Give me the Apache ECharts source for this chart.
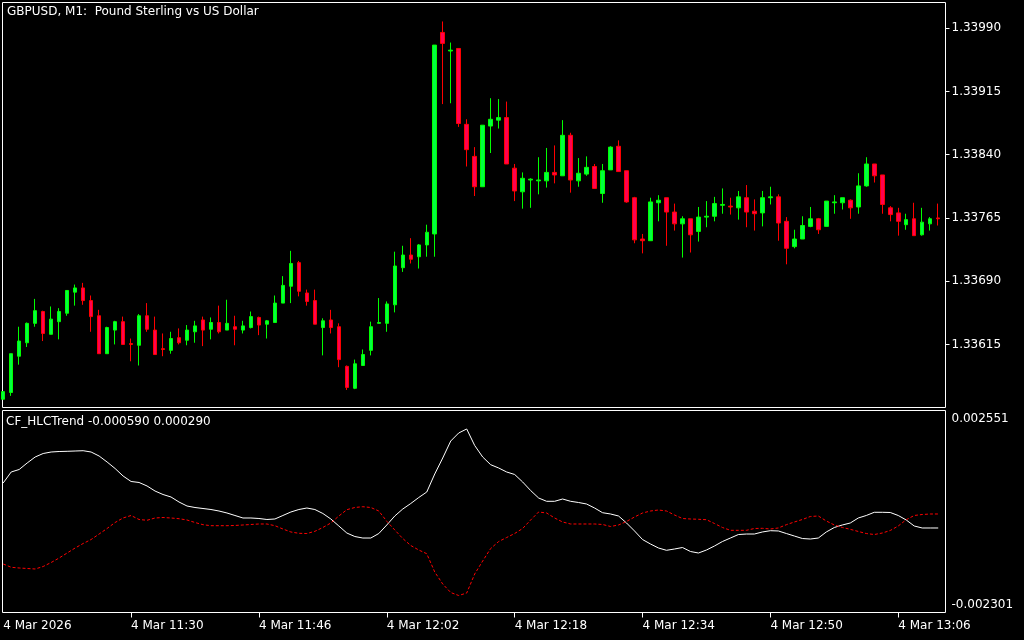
<!DOCTYPE html>
<html><head><meta charset="utf-8">
<script src="https://cdn.jsdelivr.net/npm/echarts@6/dist/echarts.min.js"></script>
<style>html,body{margin:0;padding:0;background:#000;}#c{width:1024px;height:640px;}</style>
</head><body><div id="c"></div>
<script>
const chartTitle = 'GBPUSD, M1:  Pound Sterling vs US Dollar';
const indicatorTitle = 'CF_HLCTrend -0.000590 0.000290';

// One-minute candles 11:14 .. 13:11 (index 0 .. 117)
const open = [1.33550,1.33558,1.33601,1.33617,1.33640,1.33654,1.33627,1.33642,1.33652,1.33677,
1.33682,1.33667,1.33649,1.33604,1.33632,1.33642,1.33616,1.33614,1.33649,1.33632,
1.33610,1.33608,1.33623,1.33620,1.33630,1.33644,1.33633,1.33641,1.33632,1.33636,
1.33632,1.33635,1.33647,1.33639,1.33641,1.33664,1.33684,1.33712,1.33676,1.33667,
1.33635,1.33644,1.33636,1.33589,1.33563,1.33590,1.33608,1.33640,1.33640,1.33662,
1.33706,1.33721,1.33719,1.33733,1.33746,1.33985,1.33963,1.33966,1.33876,1.33838,
1.33802,1.33874,1.33881,1.33884,1.33824,1.33796,1.33810,1.33809,1.33809,1.33819,
1.33815,1.33863,1.33809,1.33817,1.33826,1.33794,1.33822,1.33850,1.33821,1.33789,
1.33740,1.33738,1.33783,1.33789,1.33772,1.33758,1.33764,1.33749,1.33766,1.33767,
1.33780,1.33779,1.33777,1.33789,1.33773,1.33771,1.33789,1.33790,1.33761,1.33731,
1.33740,1.33755,1.33764,1.33755,1.33783,1.33783,1.33786,1.33778,1.33803,1.33829,
1.33816,1.33777,1.33771,1.33757,1.33764,1.33745,1.33758,1.33765];
const close = [1.33559,1.33604,1.33619,1.33640,1.33655,1.33628,1.33645,1.33654,1.33679,1.33682,
1.33667,1.33648,1.33604,1.33635,1.33642,1.33615,1.33615,1.33649,1.33633,1.33603,
1.33609,1.33622,1.33617,1.33632,1.33637,1.33632,1.33641,1.33630,1.33640,1.33633,
1.33637,1.33648,1.33638,1.33643,1.33664,1.33685,1.33711,1.33678,1.33666,1.33639,
1.33643,1.33635,1.33597,1.33564,1.33592,1.33603,1.33636,1.33641,1.33663,1.33708,
1.33721,1.33716,1.33733,1.33748,1.33970,1.33972,1.33964,1.33877,1.33846,1.33802,
1.33875,1.33882,1.33884,1.33829,1.33797,1.33812,1.33811,1.33810,1.33819,1.33816,
1.33863,1.33810,1.33818,1.33825,1.33800,1.33821,1.33849,1.33820,1.33784,1.33739,
1.33738,1.33784,1.33786,1.33772,1.33758,1.33764,1.33745,1.33766,1.33767,1.33782,
1.33781,1.33778,1.33790,1.33772,1.33770,1.33789,1.33790,1.33759,1.33729,1.33740,
1.33756,1.33764,1.33751,1.33785,1.33784,1.33789,1.33777,1.33803,1.33829,1.33815,
1.33781,1.33769,1.33761,1.33763,1.33744,1.33760,1.33764,1.33764];
const low = [1.33550,1.33554,1.33591,1.33612,1.33636,1.33619,1.33627,1.33621,1.33649,1.33661,
1.33662,1.33630,1.33604,1.33604,1.33615,1.33615,1.33595,1.33590,1.33630,1.33603,
1.33601,1.33604,1.33615,1.33614,1.33617,1.33613,1.33621,1.33628,1.33632,1.33614,
1.33628,1.33634,1.33626,1.33622,1.33641,1.33664,1.33664,1.33672,1.33661,1.33639,
1.33602,1.33628,1.33588,1.33561,1.33562,1.33590,1.33602,1.33640,1.33630,1.33653,
1.33701,1.33711,1.33705,1.33719,1.33719,1.33900,1.33901,1.33873,1.33826,1.33791,
1.33802,1.33842,1.33871,1.33829,1.33785,1.33776,1.33777,1.33793,1.33801,1.33806,
1.33815,1.33795,1.33802,1.33815,1.33800,1.33783,1.33822,1.33820,1.33783,1.33735,
1.33723,1.33738,1.33761,1.33732,1.33750,1.33718,1.33724,1.33737,1.33754,1.33761,
1.33770,1.33769,1.33763,1.33754,1.33750,1.33755,1.33781,1.33738,1.33710,1.33729,
1.33740,1.33754,1.33746,1.33755,1.33770,1.33775,1.33764,1.33770,1.33802,1.33807,
1.33770,1.33761,1.33744,1.33751,1.33744,1.33744,1.33750,1.33756];
const high = [1.33559,1.33604,1.33636,1.33641,1.33669,1.33655,1.33660,1.33658,1.33679,1.33686,
1.33688,1.33673,1.33656,1.33636,1.33643,1.33648,1.33622,1.33651,1.33664,1.33648,
1.33628,1.33630,1.33634,1.33638,1.33643,1.33648,1.33647,1.33661,1.33668,1.33649,
1.33643,1.33654,1.33648,1.33644,1.33673,1.33696,1.33726,1.33714,1.33680,1.33680,
1.33646,1.33656,1.33640,1.33590,1.33597,1.33609,1.33642,1.33670,1.33666,1.33725,
1.33732,1.33741,1.33734,1.33757,1.33970,1.33998,1.33973,1.33966,1.33882,1.33849,
1.33875,1.33907,1.33906,1.33903,1.33829,1.33819,1.33812,1.33837,1.33848,1.33851,
1.33881,1.33866,1.33836,1.33838,1.33829,1.33829,1.33850,1.33857,1.33821,1.33790,
1.33746,1.33789,1.33792,1.33789,1.33782,1.33767,1.33764,1.33778,1.33785,1.33790,
1.33800,1.33789,1.33797,1.33804,1.33787,1.33797,1.33802,1.33793,1.33766,1.33751,
1.33767,1.33778,1.33765,1.33785,1.33792,1.33789,1.33787,1.33818,1.33837,1.33829,
1.33816,1.33779,1.33777,1.33770,1.33783,1.33777,1.33766,1.33782];

// CF_HLCTrend buffers
const trendLine = [810e-6,1074e-6,1134e-6,1290e-6,1434e-6,1518e-6,1554e-6,1566e-6,1571e-6,1578e-6,
1585e-6,1554e-6,1458e-6,1314e-6,1158e-6,978e-6,846e-6,822e-6,738e-6,617e-6,
533e-6,473e-6,353e-6,257e-6,221e-6,197e-6,173e-6,137e-6,89e-6,29e-6,
-31e-6,-31e-6,-43e-6,-67e-6,-55e-6,29e-6,113e-6,173e-6,209e-6,173e-6,
77e-6,-55e-6,-223e-6,-392e-6,-476e-6,-512e-6,-512e-6,-404e-6,-199e-6,17e-6,
185e-6,317e-6,461e-6,593e-6,1026e-6,1410e-6,1818e-6,2011e-6,2107e-6,1710e-6,
1434e-6,1249e-6,1170e-6,1074e-6,1014e-6,834e-6,629e-6,449e-6,370e-6,370e-6,
425e-6,370e-6,341e-6,305e-6,209e-6,96e-6,65e-6,17e-6,-151e-6,-343e-6,
-548e-6,-656e-6,-752e-6,-807e-6,-776e-6,-740e-6,-836e-6,-872e-6,-800e-6,-704e-6,
-596e-6,-512e-6,-428e-6,-416e-6,-416e-6,-367e-6,-336e-6,-343e-6,-404e-6,-464e-6,
-524e-6,-536e-6,-512e-6,-367e-6,-259e-6,-199e-6,-151e-6,-31e-6,29e-6,106e-6,
106e-6,101e-6,29e-6,-79e-6,-223e-6,-271e-6,-271e-6,-271e-6];
const signalLine = [-1136e-6,-1215e-6,-1232e-6,-1244e-6,-1256e-6,-1196e-6,-1100e-6,-992e-6,-872e-6,-752e-6,
-644e-6,-548e-6,-416e-6,-283e-6,-139e-6,-31e-6,29e-6,-67e-6,-86e-6,-31e-6,
-19e-6,-31e-6,-48e-6,-79e-6,-139e-6,-192e-6,-216e-6,-216e-6,-216e-6,-211e-6,
-199e-6,-187e-6,-175e-6,-175e-6,-216e-6,-295e-6,-367e-6,-399e-6,-404e-6,-351e-6,
-259e-6,-151e-6,17e-6,168e-6,221e-6,240e-6,221e-6,137e-6,-110e-6,-319e-6,
-524e-6,-692e-6,-800e-6,-889e-6,-1328e-6,-1617e-6,-1821e-6,-1893e-6,-1833e-6,-1376e-6,
-1064e-6,-764e-6,-596e-6,-500e-6,-404e-6,-283e-6,-79e-6,113e-6,89e-6,-31e-6,
-127e-6,-175e-6,-175e-6,-175e-6,-175e-6,-187e-6,-235e-6,-199e-6,-115e-6,-7e-6,
89e-6,137e-6,161e-6,137e-6,41e-6,-43e-6,-55e-6,-62e-6,-72e-6,-163e-6,
-259e-6,-327e-6,-327e-6,-327e-6,-283e-6,-279e-6,-295e-6,-271e-6,-192e-6,-127e-6,
-67e-6,5e-6,17e-6,-103e-6,-199e-6,-259e-6,-303e-6,-355e-6,-404e-6,-428e-6,
-392e-6,-331e-6,-223e-6,-72e-6,29e-6,53e-6,65e-6,65e-6];

const priceTicks = [1.33615, 1.33690, 1.33765, 1.33840, 1.33915, 1.33990];
const priceRange = [1.335402, 1.340205];
const indicatorRange = [-0.002301, 0.002551];
const timeTickIdx = [0, 16, 32, 48, 64, 80, 96, 112];
const timeTickLabels = ['4 Mar 2026','4 Mar 11:30','4 Mar 11:46','4 Mar 12:02','4 Mar 12:18','4 Mar 12:34','4 Mar 12:50','4 Mar 13:06'];

const xMin = -0.0875, xMax = 117.9125;
const FONT = 'DejaVu Sans';
const candles = open.map((o, i) => [i, o, close[i], low[i], high[i]]);
const trendData = trendLine.map((v, i) => [i, v]);
const signalData = signalLine.map((v, i) => [i, v]);

const chart = echarts.init(document.getElementById('c'), null, {renderer: 'canvas'});
chart.setOption({
  animation: false,
  backgroundColor: '#000',
  title: [
    {text: chartTitle, left: 7, top: 6, padding: 0,
     textStyle: {color: '#fff', fontSize: 12, fontWeight: 'normal', fontFamily: FONT}},
    {text: indicatorTitle, left: 6, top: 416, padding: 0,
     textStyle: {color: '#fff', fontSize: 12, fontWeight: 'normal', fontFamily: FONT}}
  ],
  grid: [
    {left: 2.5, top: 2.5, width: 943, height: 405, show: true, borderColor: '#fff', borderWidth: 1, backgroundColor: 'transparent'},
    {left: 2.5, top: 410.5, width: 943, height: 202, show: true, borderColor: '#fff', borderWidth: 1, backgroundColor: 'transparent'}
  ],
  xAxis: [
    {type: 'value', gridIndex: 0, min: xMin, max: xMax, show: false, axisLine: {onZero: false}},
    {type: 'value', gridIndex: 1, min: xMin, max: xMax, position: 'bottom',
     axisLine: {show: false, onZero: false}, splitLine: {show: false},
     axisTick: {show: true, length: 5, customValues: timeTickIdx.slice(1), lineStyle: {color: '#fff'}},
     axisLabel: {customValues: timeTickIdx, formatter: v => timeTickLabels[timeTickIdx.indexOf(Math.round(v))],
       color: '#fff', fontFamily: FONT, fontSize: 12, align: 'left', margin: 7}}
  ],
  yAxis: [
    {type: 'value', gridIndex: 0, position: 'right', min: priceRange[0], max: priceRange[1],
     axisLine: {show: false, onZero: false}, splitLine: {show: false},
     axisTick: {show: true, length: 4, customValues: priceTicks, lineStyle: {color: '#fff'}},
     axisLabel: {customValues: priceTicks, formatter: v => v.toFixed(5), color: '#fff',
       fontFamily: FONT, fontSize: 12, margin: 6}},
    {type: 'value', gridIndex: 1, position: 'right', min: indicatorRange[0], max: indicatorRange[1],
     axisLine: {show: false, onZero: false}, splitLine: {show: false}, axisTick: {show: false},
     axisLabel: {customValues: indicatorRange, margin: 6,
       formatter: v => v > 0 ? '{t|' + v.toFixed(6) + '}' : '{b|' + v.toFixed(6) + '}',
       rich: {
         t: {color: '#fff', fontFamily: FONT, fontSize: 12, padding: [16, 0, 0, 0]},
         b: {color: '#fff', fontFamily: FONT, fontSize: 12, padding: [0, 0, 16, 0]}
       }}}
  ],
  series: [
    {type: 'candlestick', xAxisIndex: 0, yAxisIndex: 0, data: candles, barWidth: 4,
     encode: {x: 0, y: [1, 2, 3, 4]},
     itemStyle: {color: '#00ff40', color0: '#ff0050', borderColor: '#00ff00', borderColor0: '#ff0000', borderWidth: 1}},
    {type: 'line', xAxisIndex: 1, yAxisIndex: 1, data: trendData, showSymbol: false,
     lineStyle: {color: '#ffffff', width: 1}, itemStyle: {color: '#ffffff'}},
    {type: 'line', xAxisIndex: 1, yAxisIndex: 1, data: signalData, showSymbol: false,
     lineStyle: {color: '#ff0000', width: 1, type: [3, 2]}, itemStyle: {color: '#ff0000'}}
  ]
});
</script>
</body></html>
